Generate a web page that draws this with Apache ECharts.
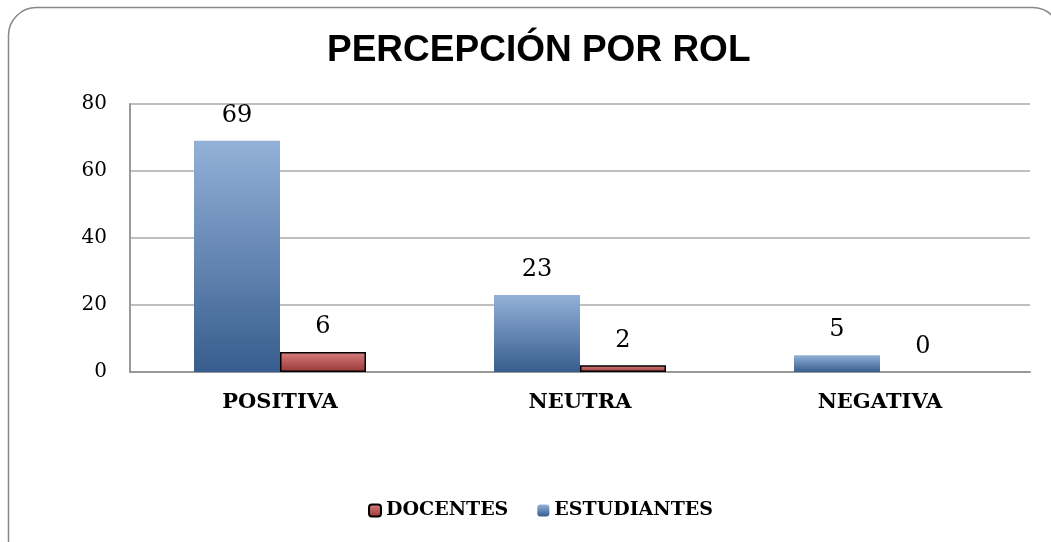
<!DOCTYPE html>
<html>
<head>
<meta charset="utf-8">
<script src="https://cdn.jsdelivr.net/npm/echarts@6/dist/echarts.min.js"></script>
<style>
  html, body { margin: 0; padding: 0; background: #fff; }
  #main { width: 1051px; height: 542px; }
</style>
</head>
<body>
<div id="main"></div>
<script>
  // datos
  var categorias = ['POSITIVA', 'NEUTRA', 'NEGATIVA']
  var estudiantes = [69, 23, 5]
  var docentes = [6, 2, 0]
  var serif = '"DejaVu Serif", "Liberation Serif", serif'

  var chart = echarts.init(document.getElementById('main'))

  var grad = function (top, bottom) {
    return new echarts.graphic.LinearGradient(0, 0, 0, 1, [
      { offset: 0, color: top },
      { offset: 1, color: bottom }
    ])
  }

  var etiqueta = { show: true, position: 'top', distance: 13, fontFamily: serif, fontSize: 24, color: '#000' }

  chart.setOption({
    animation: false,
    title: {
      text: 'PERCEPCIÓN POR ROL',
      left: 322,
      top: 27,
      textStyle: { fontFamily: '"Liberation Sans", Arial, sans-serif', fontSize: 37, fontWeight: 'bold', color: '#000' }
    },
    graphic: [{
      type: 'rect',
      shape: { x: 8.5, y: 7.5, width: 1052, height: 560, r: 28 },
      style: { fill: 'none', stroke: '#888', lineWidth: 1.5 },
      silent: true
    }],
    legend: {
      bottom: 17,
      left: 363,
      data: ['DOCENTES', 'ESTUDIANTES'],
      itemWidth: 12,
      itemHeight: 12,
      itemGap: 29,
      textStyle: { fontFamily: serif, fontSize: 19, fontWeight: 'bold', color: '#000' }
    },
    grid: { left: 130, right: 21, top: 104, bottom: 170 },
    xAxis: {
      type: 'category',
      data: categorias,
      axisLine: { lineStyle: { color: '#999', width: 2 } },
      axisTick: { show: false },
      axisLabel: { fontFamily: serif, fontSize: 21, fontWeight: 'bold', color: '#000', margin: 20 }
    },
    yAxis: {
      type: 'value',
      min: 0,
      max: 80,
      interval: 20,
      axisLine: { show: true, lineStyle: { color: '#999', width: 2 } },
      splitLine: { lineStyle: { color: '#aaa', width: 1.5 } },
      axisLabel: { fontFamily: serif, fontSize: 20, color: '#000', margin: 23 }
    },
    series: [{
      name: 'ESTUDIANTES',
      type: 'bar',
      data: estudiantes,
      barWidth: 86,
      barGap: '0%',
      itemStyle: { color: grad('#93b1d8', '#375d8e') },
      label: etiqueta
    }, {
      name: 'DOCENTES',
      type: 'bar',
      data: docentes.map(function (v) {
        return v > 0 ? v : { value: v, itemStyle: { borderWidth: 0 } }
      }),
      barWidth: 86,
      itemStyle: { color: grad('#d98080', '#9a3636'), borderColor: '#000', borderWidth: 1.5 },
      label: etiqueta
    }]
  })
</script>
</body>
</html>
